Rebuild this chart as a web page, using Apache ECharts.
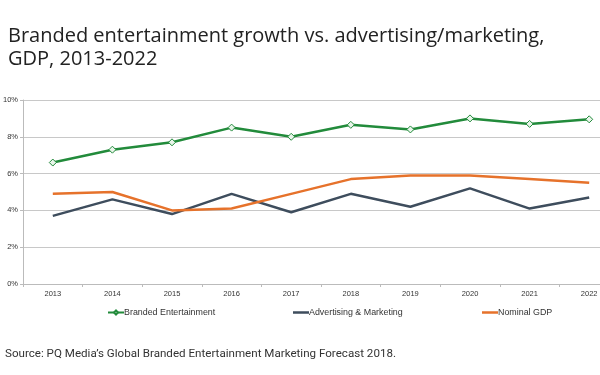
<!DOCTYPE html>
<html>
<head>
<meta charset="utf-8">
<script src="https://cdn.jsdelivr.net/npm/echarts@6/dist/echarts.min.js"></script>
<style>
  html, body { margin: 0; padding: 0; background: #fff; }
  #chart { width: 600px; height: 375px; }
</style>
</head>
<body>
<div id="chart"></div>
<script>
const years = ["2013", "2014", "2015", "2016", "2017", "2018", "2019", "2020", "2021", "2022"];
const brandedEntertainment = [6.6, 7.3, 7.7, 8.5, 8.0, 8.65, 8.4, 9.0, 8.7, 8.95];
const advertisingMarketing = [3.7, 4.6, 3.8, 4.9, 3.9, 4.9, 4.2, 5.2, 4.1, 4.7];
const nominalGdp = [4.9, 5.0, 4.0, 4.1, 4.9, 5.7, 5.9, 5.9, 5.7, 5.5];

const chart = echarts.init(document.getElementById("chart"));

const legendText = {
  fontFamily: "Liberation Sans",
  fontSize: 8.9,
  color: "#333",
  padding: [0, 0, 0, -5],
};

const legendBase = {
  top: 308,
  padding: 0,
  itemWidth: 16,
  textStyle: legendText,
};

const option = {
  backgroundColor: "#fff",
  animation: false,
  title: {
    text: "Branded entertainment growth vs. advertising/marketing,\nGDP, 2013-2022",
    left: 3,
    top: 20,
    textStyle: {
      fontFamily: "Open Sans",
      fontWeight: "normal",
      fontSize: 20,
      lineHeight: 23,
      color: "#222",
    },
  },
  legend: [
    Object.assign({ data: ["Branded Entertainment"], left: 107, itemHeight: 5 }, legendBase),
    Object.assign({ data: ["Advertising & Marketing"], left: 293, icon: "rect", itemHeight: 2.5 }, legendBase),
    Object.assign({ data: ["Nominal GDP"], left: 482, icon: "rect", itemHeight: 2.5 }, legendBase),
  ],
  grid: {
    left: 23,
    top: 100,
    width: 596,
    height: 184,
    outerBoundsMode: "none",
  },
  xAxis: {
    type: "category",
    data: years,
    boundaryGap: true,
    axisLine: { lineStyle: { color: "#bbb" } },
    axisTick: { show: true, length: 3, lineStyle: { color: "#bbb" } },
    axisLabel: {
      fontFamily: "Liberation Sans",
      fontSize: 7.5,
      color: "#333",
      margin: 6,
    },
  },
  yAxis: {
    type: "value",
    min: 0,
    max: 10,
    interval: 2,
    axisLine: { show: true, lineStyle: { color: "#bbb" } },
    axisTick: { show: true, length: 3, lineStyle: { color: "#bbb" } },
    axisLabel: {
      formatter: "{value}%",
      fontFamily: "Liberation Sans",
      fontSize: 7.5,
      color: "#333",
      margin: 5,
    },
    splitLine: { lineStyle: { color: "#c8c8c8", width: 1 } },
  },
  series: [
    {
      name: "Branded Entertainment",
      type: "line",
      data: brandedEntertainment,
      symbol: "diamond",
      symbolSize: 7,
      showAllSymbol: true,
      lineStyle: { color: "#228b3b", width: 2.5 },
      itemStyle: { color: "#e9f5ea", borderColor: "#228b3b", borderWidth: 1 },
    },
    {
      name: "Advertising & Marketing",
      type: "line",
      data: advertisingMarketing,
      symbol: "none",
      lineStyle: { color: "#3e4d5d", width: 2.5 },
      itemStyle: { color: "#3e4d5d" },
    },
    {
      name: "Nominal GDP",
      type: "line",
      data: nominalGdp,
      symbol: "none",
      lineStyle: { color: "#e6722b", width: 2.5 },
      itemStyle: { color: "#e6722b" },
    },
  ],
  graphic: [
    {
      type: "text",
      left: 5,
      top: 348,
      style: {
        text: "Source: PQ Media’s Global Branded Entertainment Marketing Forecast 2018.",
        fontFamily: "Roboto",
        fontSize: 11.6,
        fill: "#333",
      },
    },
  ],
};

chart.setOption(option);
</script>
</body>
</html>
